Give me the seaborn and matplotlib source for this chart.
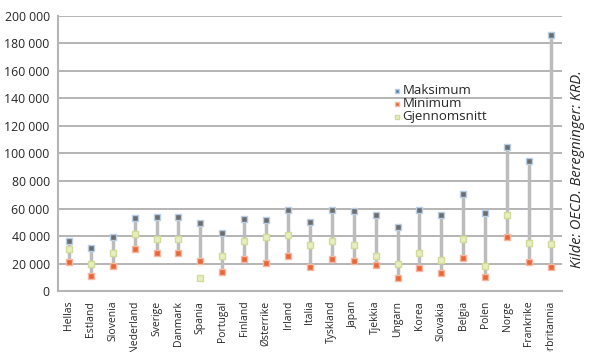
import pandas as pd
import matplotlib.pyplot as plt
import seaborn as sns
from matplotlib.ticker import FuncFormatter

# 1. Data (lesing fra figuren)
land = ['Hellas', 'Estland', 'Slovenia', 'Nederland', 'Sverige', 'Danmark', 'Spania',
        'Portugal', 'Finland', 'Østerrike', 'Irland', 'Italia', 'Tyskland', 'Japan',
        'Tjekkia', 'Ungarn', 'Korea', 'Slovakia', 'Belgia', 'Polen', 'Norge',
        'Frankrike', 'Storbritannia']
maksimum = [36600, 31000, 39500, 53300, 54000, 54000, 49200, 42400, 52100, 51600, 58900,
            49900, 58900, 58000, 55300, 46300, 58900, 55300, 70300, 56500, 105000, 94500, 186000]
minimum = [21300, 10900, 18200, 30500, 27900, 27900, 21800, 14000, 23300, 20600, 25700,
           17200, 23000, 21800, 18900, 9700, 16500, 12900, 23800, 10400, 39500, 21300, 17700]
snitt = [30300, 19400, 27400, 41500, 37600, 37600, 9200, 25500, 36400, 39500, 40700,
         33500, 36400, 33500, 25500, 19400, 27400, 22500, 37600, 18400, 55300, 34700, 34200]

df = pd.DataFrame({'land': land, 'Maksimum': maksimum, 'Minimum': minimum, 'Gjennomsnitt': snitt})
long = df.melt(id_vars='land', var_name='serie', value_name='verdi')
long['pos'] = long['land'].map({l: i for i, l in enumerate(land)})

# 2. Setup
sns.set_style("white")
plt.rcParams['font.family'] = ['Open Sans', 'DejaVu Sans']
fig, ax = plt.subplots(figsize=(5.92, 3.52), dpi=100)
fig.subplots_adjust(left=0.098, right=0.949, bottom=0.173, top=0.955)

ax.yaxis.grid(True, color='#a8a8a8', linewidth=1.2)
ax.set_axisbelow(True)

# 3. Linjer og markører
ax.vlines(df.index, df['Minimum'], df['Maksimum'], color='#bcbcbc', linewidth=2.5, zorder=2)
farger = {'Maksimum': '#6d6d6d', 'Minimum': '#e8663a', 'Gjennomsnitt': '#e8eec0'}
kanter = {'Maksimum': '#b8cfe6', 'Minimum': '#f6b8a0', 'Gjennomsnitt': '#d2dc98'}
for serie in ['Gjennomsnitt', 'Minimum', 'Maksimum']:
    d = long[long['serie'] == serie]
    sns.scatterplot(data=d, x='pos', y='verdi', marker='s', s=18, color=farger[serie],
                    edgecolor=kanter[serie], linewidth=1.0, ax=ax, label=serie, zorder=3)

# 4. Akser
ax.set_xlim(-0.5, len(land) - 0.5)
ax.set_ylim(0, 200000)
ax.set_yticks(range(0, 200001, 20000))
ax.yaxis.set_major_formatter(FuncFormatter(lambda v, p: f'{v:,.0f}'.replace(',', ' ')))
ax.set_xticks(range(len(land)))
ax.set_xticklabels(land, rotation=90, fontsize=7.5)
ax.tick_params(axis='y', labelsize=8.8, length=4, color='#a8a8a8', pad=2)
ax.tick_params(axis='x', length=4, color='#a8a8a8', pad=3)
ax.set_xlabel('')
ax.set_ylabel('')
for s in ['top', 'right']:
    ax.spines[s].set_visible(False)
for s in ['left', 'bottom']:
    ax.spines[s].set_color('#b5b5b5')
    ax.spines[s].set_linewidth(1.5)

h, l = ax.get_legend_handles_labels()
leg = ax.legend([h[l.index(n)] for n in ['Maksimum', 'Minimum', 'Gjennomsnitt']],
                ['Maksimum', 'Minimum', 'Gjennomsnitt'], loc='upper left',
                bbox_to_anchor=(0.655, 0.77), frameon=False, fontsize=9.5, handletextpad=0.1,
                labelspacing=0.0, markerscale=0.7, borderaxespad=0, handlelength=0.6)
leg.legend_handles[0].set_facecolor('#4f7fa8')

fig.text(0.975, 0.52, 'Kilde: OECD. Beregninger: KRD.', rotation=90, style='italic',
         fontsize=10.5, ha='center', va='center')

# 5. Lagre
plt.savefig('out.png', dpi=100)
